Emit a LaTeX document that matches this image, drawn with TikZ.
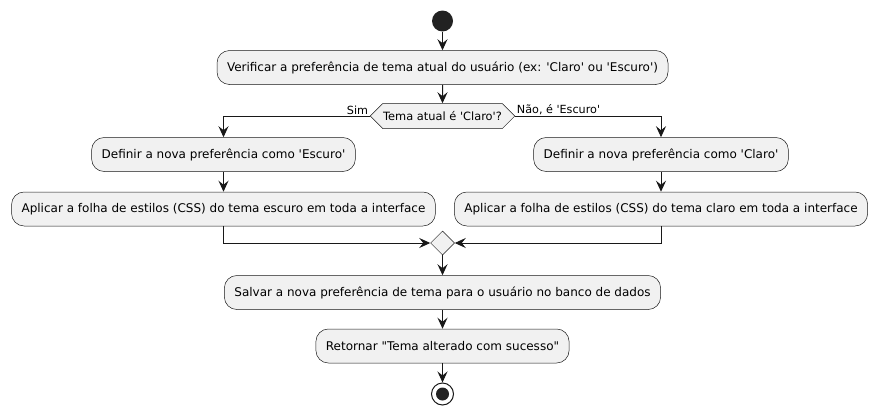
\documentclass[tikz,border=0pt]{standalone}
\usepackage{fontspec}
\newfontfamily\dv{DejaVu Sans}
\usetikzlibrary{arrows.meta,shapes.geometric,shapes.symbols}
\definecolor{cline}{HTML}{181818}
\definecolor{cfill}{HTML}{F1F1F1}
\definecolor{cdot}{HTML}{222222}
\begin{document}
\begin{tikzpicture}[x=1pt,y=-1pt,
  every node/.style={font=\dv\fontsize{12}{14}\selectfont, text=black},
  act/.style={draw=cline, line width=0.5pt, fill=cfill, rounded corners=12.5pt,
    minimum height=34pt, inner xsep=10pt, inner ysep=0pt},
  decbox/.style={signal, signal to=west and east, signal pointer angle=90,
    draw=cline, line width=0.5pt, fill=cfill, minimum height=25pt, inner xsep=0.5pt, inner ysep=0pt,
    font=\dv\fontsize{11.4}{13}\selectfont},
  mergebox/.style={diamond, draw=cline, line width=0.5pt, fill=cfill, minimum width=24pt,
    minimum height=24pt, inner sep=0pt},
  startdot/.style={circle, fill=cdot, minimum size=21pt, inner sep=0pt},
  enddot/.style={circle, draw=cline, line width=1pt, fill=white, minimum size=22pt, inner sep=0pt},
  endin/.style={circle, fill=cdot, minimum size=13pt, inner sep=0pt},
  arr/.style={draw=cline, line width=1pt, -{Stealth[length=11pt,width=10pt,inset=4pt]}},
  lbl/.style={inner sep=1.2pt, font=\dv\fontsize{11.2}{13}\selectfont}
]
\useasboundingbox (0,0) rectangle (878,415);

\node[startdot] (start) at (442.5,21) {};
\node[act] (a1) at (442.5,67.5) {Verificar a preferência de tema atual do usuário (ex: 'Claro' ou 'Escuro')};
\node[decbox] (d) at (442.5,116) {Tema atual é 'Claro'?};
\node[act] (l1) at (223.5,154.5) {Definir a nova preferência como 'Escuro'};
\node[act] (l2) at (223.5,209) {Aplicar a folha de estilos (CSS) do tema escuro em toda a interface};
\node[act] (r1) at (661,154.5) {Definir a nova preferência como 'Claro'};
\node[act] (r2) at (661,209) {Aplicar a folha de estilos (CSS) do tema claro em toda a interface};
\node[mergebox] (m) at (442.5,243) {};
\node[act] (s) at (442.5,292.5) {Salvar a nova preferência de tema para o usuário no banco de dados};
\node[act] (t) at (442.5,346) {Retornar "Tema alterado com sucesso"};
\node[enddot] (e) at (442.5,394) {};
\node[endin] (ein) at (e.center) {};

\draw[arr] (start) -- (a1);
\draw[arr] (a1) -- (d);
\draw[arr] (d.west) -| node[pos=0, above left, lbl] {Sim} (l1.north);
\draw[arr] (d.east) -| node[pos=0, above right, lbl] {Não, é 'Escuro'} (r1.north);
\draw[arr] (l1) -- (l2);
\draw[arr] (r1) -- (r2);
\draw[arr] (l2.south) |- (m.west);
\draw[arr] (r2.south) |- (m.east);
\draw[arr] (m) -- (s);
\draw[arr] (s) -- (t);
\draw[arr] (t) -- (e);
\end{tikzpicture}
\end{document}
